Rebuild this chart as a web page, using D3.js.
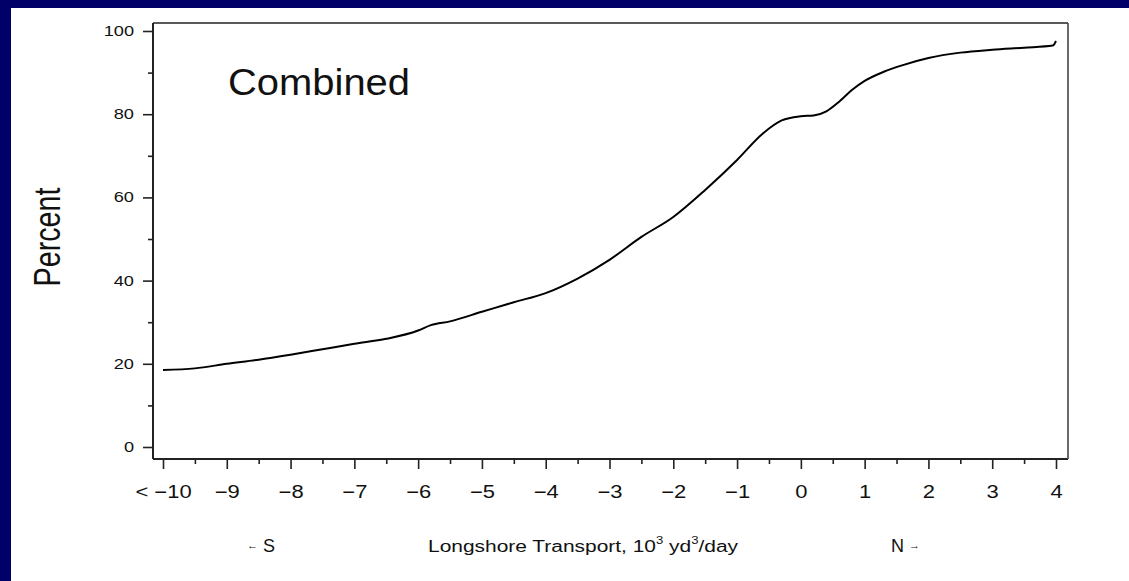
<!DOCTYPE html>
<html>
<head>
<meta charset="utf-8">
<script src="https://cdn.jsdelivr.net/npm/d3@7"></script>
<style>
  html, body { margin: 0; padding: 0; background: #000068; }
  svg { display: block; }
  text { font-family: "Liberation Sans", Arial, Helvetica, sans-serif; fill: #111; }
</style>
</head>
<body>
<svg id="chart" width="1129" height="581"></svg>
<script>
// ---- data ----
const transport = [-10, -9.5, -9, -8.5, -8, -7.5, -7, -6.5, -6, -5.8, -5.5, -5, -4.5, -4, -3.5, -3, -2.5, -2, -1.5, -1, -0.6, -0.3, 0, 0.2, 0.4, 0.6, 0.8, 1, 1.3, 1.6, 2, 2.5, 3, 3.5, 3.95, 4.0];
const percent   = [18.5, 18.9, 20.0, 21.0, 22.2, 23.5, 24.8, 26.0, 28.0, 29.3, 30.2, 32.5, 34.8, 37.0, 40.5, 45.0, 50.5, 55.3, 61.8, 69.0, 75.3, 78.5, 79.5, 79.7, 80.7, 83.0, 85.8, 88.0, 90.2, 91.8, 93.5, 94.8, 95.5, 96.0, 96.5, 97.6];
const xMajorTicks = [-10, -9, -8, -7, -6, -5, -4, -3, -2, -1, 0, 1, 2, 3, 4];
const xMinorTicks = [-9.5, -8.5, -7.5, -6.5, -5.5, -4.5, -3.5, -2.5, -1.5, -0.5, 0.5, 1.5, 2.5, 3.5];
const yMajorTicks = [0, 20, 40, 60, 80, 100];
const yMinorTicks = [10, 30, 50, 70, 90];
const titleText = "Combined";
const yTitle = "Percent";

// ---- layout ----
const svg = d3.select("#chart");
svg.append("rect").attr("x", 11).attr("y", 8).attr("width", 1129 - 11).attr("height", 581 - 8).attr("fill", "#fff");

const frame = { left: 153, right: 1068, top: 23, bottom: 459 };
const x = d3.scaleLinear().domain([-10, 4]).range([163, 1056]);
const y = d3.scaleLinear().domain([0, 100]).range([447, 31]);

function stretch(sel, k) {
  sel.each(function () {
    const w = this.getComputedTextLength();
    d3.select(this).attr("textLength", w * k).attr("lengthAdjust", "spacingAndGlyphs");
  });
}

// frame
const fr = svg.append("g").attr("stroke", "#222").attr("fill", "none");
fr.append("line").attr("x1", frame.left).attr("x2", frame.left).attr("y1", frame.top).attr("y2", frame.bottom).attr("stroke-width", 2);
fr.append("line").attr("x1", frame.left).attr("x2", frame.right).attr("y1", frame.bottom).attr("y2", frame.bottom).attr("stroke-width", 2);
fr.append("line").attr("x1", frame.left).attr("x2", frame.right).attr("y1", frame.top).attr("y2", frame.top).attr("stroke-width", 1.6);
fr.append("line").attr("x1", frame.right).attr("x2", frame.right).attr("y1", frame.top).attr("y2", frame.bottom).attr("stroke-width", 1.6).attr("stroke", "#444");

// y axis
const yAx = svg.append("g").attr("transform", `translate(${frame.left},0)`)
  .call(d3.axisLeft(y).tickValues(yMajorTicks).tickSize(10).tickPadding(9).tickFormat(d3.format("d")));
const yAxMinor = svg.append("g").attr("transform", `translate(${frame.left},0)`)
  .call(d3.axisLeft(y).tickValues(yMinorTicks).tickSize(5).tickFormat(""));
[yAx, yAxMinor].forEach(g => {
  g.select(".domain").remove();
  g.selectAll(".tick line").attr("stroke", "#222").attr("stroke-width", 1.6);
});
yAx.selectAll(".tick text").attr("font-size", 14).attr("font-family", "Liberation Sans, Arial, sans-serif").attr("fill", "#111");
stretch(yAx.selectAll(".tick text"), 1.3);

// x axis
const fmtX = d => (d === -10 ? "< \u221210" : d < 0 ? "\u2212" + Math.abs(d) : String(d));
const xAx = svg.append("g").attr("transform", `translate(0,${frame.bottom})`)
  .call(d3.axisBottom(x).tickValues(xMajorTicks).tickSize(10).tickFormat(fmtX));
const xAxMinor = svg.append("g").attr("transform", `translate(0,${frame.bottom})`)
  .call(d3.axisBottom(x).tickValues(xMinorTicks).tickSize(5).tickFormat(""));
[xAx, xAxMinor].forEach(g => {
  g.select(".domain").remove();
  g.selectAll(".tick line").attr("stroke", "#222").attr("stroke-width", 1.6);
});
xAx.selectAll(".tick text").attr("font-size", 18).attr("y", 39).attr("dy", null)
  .attr("font-family", "Liberation Sans, Arial, sans-serif").attr("fill", "#111");
stretch(xAx.selectAll(".tick text"), 1.22);

// curve
const pts = transport.map((t, i) => [t, percent[i]]);
svg.append("path").datum(pts)
  .attr("fill", "none").attr("stroke", "#000").attr("stroke-width", 2)
  .attr("d", d3.line().x(d => x(d[0])).y(d => y(d[1])).curve(d3.curveMonotoneX));

// title inside plot
const t = svg.append("text").attr("x", 228).attr("y", 95).attr("font-size", 37).text(titleText);
t.attr("textLength", 182).attr("lengthAdjust", "spacingAndGlyphs");

// y title
const yt = svg.append("text").attr("transform", "translate(60,237) rotate(-90)")
  .attr("text-anchor", "middle").attr("font-size", 36).text(yTitle);
yt.attr("textLength", 99).attr("lengthAdjust", "spacingAndGlyphs");

// bottom labels
const s = svg.append("text").attr("x", 247).attr("y", 552).attr("font-size", 18);
s.append("tspan").attr("font-size", 11).attr("dy", -3).text("\u2190");
s.append("tspan").attr("dy", 3).text(" S");

const xl = svg.append("text").attr("x", 428).attr("y", 552).attr("font-size", 16);
xl.append("tspan").text("Longshore Transport, 10");
xl.append("tspan").attr("font-size", 10).attr("dy", -8).text("3");
xl.append("tspan").attr("dy", 8).text(" yd");
xl.append("tspan").attr("font-size", 10).attr("dy", -8).text("3");
xl.append("tspan").attr("dy", 8).text("/day");
xl.attr("textLength", 310).attr("lengthAdjust", "spacingAndGlyphs");

const n = svg.append("text").attr("x", 891).attr("y", 552).attr("font-size", 18);
n.append("tspan").text("N ");
n.append("tspan").attr("font-size", 11).attr("dy", -3).text("\u2192");
</script>
</body>
</html>
